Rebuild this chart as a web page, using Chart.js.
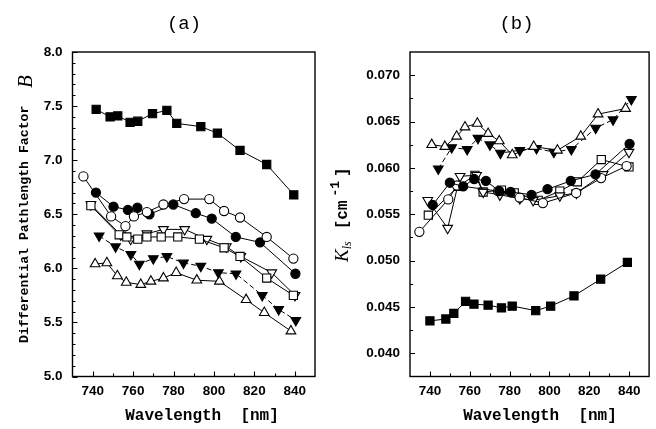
<!DOCTYPE html>
<html>
<head>
<meta charset="utf-8">
<script src="https://cdn.jsdelivr.net/npm/chart.js@4.4.0/dist/chart.umd.min.js"></script>
<style>
  html, body { margin: 0; padding: 0; background: #fff; }
  #wrap { position: relative; width: 656px; height: 429px; }
  #chartA { position: absolute; left: 0; top: 0; }
  #chartB { position: absolute; left: 330px; top: 0; }
</style>
</head>
<body>
<div id="wrap">
  <canvas id="chartA" width="330" height="429"></canvas>
  <canvas id="chartB" width="326" height="429"></canvas>
</div>
<script>
// wavelength axis (both panels)
var waveTicks = [740, 760, 780, 800, 820, 840];
var waveMinor = [750, 770, 790, 810, 830];

// (a) differential pathlength factor B
var dpfTicks = [5.0, 5.5, 6.0, 6.5, 7.0, 7.5, 8.0];
var dpfSqFillX = [741.7, 748.6, 752.4, 758.5, 762.3, 769.6, 776.7, 781.6, 793.5, 801.7, 812.9, 826.1, 839.5];
var dpfSqFillY = [7.47, 7.40, 7.41, 7.35, 7.36, 7.43, 7.46, 7.34, 7.31, 7.25, 7.09, 6.96, 6.68];
var dpfCircOpenX = [735.4, 749.1, 756.2, 760.4, 766.8, 775.0, 785.2, 797.7, 805.0, 812.9, 826.1, 839.3];
var dpfCircOpenY = [6.85, 6.48, 6.39, 6.48, 6.52, 6.59, 6.64, 6.64, 6.53, 6.47, 6.29, 6.09];
var dpfCircFillX = [741.6, 750.3, 757.4, 762.1, 768.1, 779.9, 791.0, 798.9, 810.8, 822.8, 840.3];
var dpfCircFillY = [6.70, 6.57, 6.54, 6.56, 6.50, 6.59, 6.51, 6.46, 6.29, 6.24, 5.95];
var dpfSqOpenX = [739.1, 753.1, 756.9, 762.3, 766.8, 773.9, 782.1, 792.8, 805.0, 812.9, 826.1, 839.3];
var dpfSqOpenY = [6.58, 6.31, 6.29, 6.27, 6.29, 6.29, 6.29, 6.27, 6.19, 6.11, 5.91, 5.75];
var dpfTriDownOpenX = [739.1, 753.9, 758.8, 766.8, 775.0, 785.5, 796.5, 806.1, 813.3, 828.6, 840.1];
var dpfTriDownOpenY = [6.59, 6.31, 6.27, 6.32, 6.36, 6.36, 6.27, 6.20, 6.11, 5.96, 5.75];
var dpfTriDownFillX = [743.2, 751.3, 758.9, 763.1, 770.0, 776.7, 784.9, 793.5, 802.2, 810.9, 823.9, 832.0, 840.5];
var dpfTriDownFillY = [6.30, 6.20, 6.13, 6.04, 6.09, 6.11, 6.05, 6.02, 5.96, 5.95, 5.75, 5.62, 5.52];
var dpfTriUpOpenX = [741.2, 747.0, 752.2, 756.6, 763.8, 768.8, 775.0, 781.3, 791.5, 802.7, 815.9, 824.9, 838.1];
var dpfTriUpOpenY = [6.04, 6.05, 5.93, 5.87, 5.85, 5.88, 5.91, 5.96, 5.89, 5.88, 5.71, 5.59, 5.42];

// (b) K_ls
var klsTicks = [0.040, 0.045, 0.050, 0.055, 0.060, 0.065, 0.070];
var klsSqFillX = [740.0, 748.0, 752.0, 757.9, 762.1, 769.2, 775.9, 781.3, 793.1, 800.6, 812.3, 825.7, 839.1];
var klsSqFillY = [0.0435, 0.0437, 0.0443, 0.0456, 0.0453, 0.0452, 0.0449, 0.0451, 0.0446, 0.0451, 0.0462, 0.0480, 0.0498];
var klsTriUpOpenX = [740.9, 747.5, 753.4, 757.6, 763.8, 769.2, 774.8, 781.3, 792.1, 804.0, 815.7, 824.4, 838.2];
var klsTriUpOpenY = [0.0625, 0.0623, 0.0634, 0.0644, 0.0648, 0.0637, 0.0629, 0.0614, 0.0623, 0.0619, 0.0634, 0.0658, 0.0664];
var klsTriDownFillX = [744.2, 750.9, 758.7, 764.1, 770.1, 775.4, 785.1, 793.5, 802.2, 811.0, 823.2, 831.9, 841.1];
var klsTriDownFillY = [0.0599, 0.0622, 0.0620, 0.0632, 0.0625, 0.0616, 0.0619, 0.0621, 0.0617, 0.0620, 0.0643, 0.0652, 0.0674];
var klsCircFillX = [741.4, 750.0, 756.7, 762.2, 768.1, 774.8, 780.5, 791.0, 799.0, 810.7, 823.1, 840.2];
var klsCircFillY = [0.0560, 0.0584, 0.0580, 0.0588, 0.0586, 0.0575, 0.0574, 0.0571, 0.0577, 0.0586, 0.0593, 0.0626];
var klsCircOpenX = [734.7, 749.2, 753.6, 774.2, 785.0, 796.7, 813.4, 825.9, 838.7];
var klsCircOpenY = [0.0531, 0.0566, 0.0581, 0.0575, 0.0568, 0.0562, 0.0573, 0.0589, 0.0602];
var klsTriDownOpenX = [738.9, 748.9, 755.1, 763.4, 766.7, 775.1, 785.1, 791.8, 805.2, 813.5, 826.9, 839.9];
var klsTriDownOpenY = [0.0565, 0.0535, 0.0591, 0.0592, 0.0574, 0.0571, 0.0567, 0.0565, 0.0570, 0.0573, 0.0593, 0.0617];
var klsSqOpenX = [739.2, 754.2, 762.6, 766.7, 775.9, 782.3, 794.3, 805.2, 814.0, 826.0, 839.9];
var klsSqOpenY = [0.0549, 0.0580, 0.0592, 0.0574, 0.0576, 0.0573, 0.0565, 0.0575, 0.0585, 0.0609, 0.0601];

var MONO = '"Liberation Mono", "DejaVu Sans Mono", monospace';
var SERIF = '"Liberation Serif", "DejaVu Serif", serif';

function pts(xs, ys) {
  return xs.map(function (x, i) { return { x: x, y: ys[i] }; });
}

// marker kinds: filled/open square, circle, up/down triangle
function series(xs, ys, kind, filled, dashed) {
  var style = 'circle', radius = 4.6, rot = 0;
  if (kind == 'sq') { style = 'rect'; radius = 5.8; }
  if (kind == 'up') { style = 'triangle'; radius = 5.6; }
  if (kind == 'down') { style = 'triangle'; radius = 5.6; rot = 180; }
  return {
    data: pts(xs, ys),
    borderColor: '#000',
    borderWidth: 1,
    borderDash: dashed ? [5, 3] : [],
    pointStyle: style,
    pointRadius: radius,
    pointRotation: rot,
    pointBackgroundColor: filled ? '#000' : '#fff',
    pointBorderColor: '#000',
    pointBorderWidth: 1.1,
    tension: 0,
    fill: false
  };
}

// box round the plot, inward ticks and the hand-set titles
var framePlugin = {
  id: 'frame',
  afterDraw: function (chart, args, o) {
    var ctx = chart.ctx, a = chart.chartArea;
    var sx = chart.scales.x, sy = chart.scales.y;
    ctx.save();
    ctx.strokeStyle = '#000';
    ctx.lineWidth = 1.4;
    ctx.strokeRect(a.left, a.top, a.right - a.left, a.bottom - a.top);
    ctx.lineWidth = 1.1;
    ctx.beginPath();
    waveTicks.forEach(function (v) {
      var p = Math.round(sx.getPixelForValue(v)) + 0.5;
      ctx.moveTo(p, a.bottom); ctx.lineTo(p, a.bottom - 5);
    });
    waveMinor.forEach(function (v) {
      var p = Math.round(sx.getPixelForValue(v)) + 0.5;
      ctx.moveTo(p, a.bottom); ctx.lineTo(p, a.bottom - 3);
    });
    o.yMajor.forEach(function (v) {
      var p = Math.round(sy.getPixelForValue(v)) + 0.5;
      ctx.moveTo(a.left, p); ctx.lineTo(a.left + 5, p);
    });
    o.yMinor.forEach(function (v) {
      var p = Math.round(sy.getPixelForValue(v)) + 0.5;
      ctx.moveTo(a.left, p); ctx.lineTo(a.left + 3, p);
    });
    ctx.stroke();

    ctx.fillStyle = '#000';
    ctx.textAlign = 'center';
    ctx.textBaseline = 'middle';
    ctx.font = '19px ' + MONO;
    ctx.fillText(o.title, o.titleX, 24);
    ctx.font = 'bold 16px ' + MONO;
    ctx.fillText('Wavelength  [nm]', o.xTitleX, 416);
    o.drawYTitle(ctx);
    ctx.restore();
  }
};

function makeChart(id, datasets, yMin, yMax, yTicks, yFmt, yWidth, padRight, frameOpts) {
  return new Chart(document.getElementById(id), {
    type: 'line',
    data: { datasets: datasets },
    options: {
      responsive: false,
      animation: false,
      layout: { padding: { left: 0, right: padRight, top: 52, bottom: 0 } },
      plugins: { legend: { display: false }, tooltip: { enabled: false }, frame: frameOpts },
      scales: {
        x: {
          type: 'linear', min: 730, max: 850,
          grid: { display: false, drawTicks: false },
          border: { display: false },
          afterBuildTicks: function (s) { s.ticks = waveTicks.map(function (v) { return { value: v }; }); },
          afterFit: function (s) { s.height = 52.5; },
          ticks: { padding: 7, color: '#000', font: { family: '"Liberation Sans", Arial, sans-serif', size: 13.5, weight: 'bold' } }
        },
        y: {
          type: 'linear', min: yMin, max: yMax,
          grid: { display: false, drawTicks: false },
          border: { display: false },
          afterBuildTicks: function (s) { s.ticks = yTicks.map(function (v) { return { value: v }; }); },
          afterFit: function (s) { s.width = yWidth; },
          ticks: {
            padding: 10, color: '#000',
            font: { family: '"Liberation Sans", Arial, sans-serif', size: 13.5, weight: 'bold' },
            callback: function (v) { return v.toFixed(yFmt); }
          }
        }
      }
    },
    plugins: [framePlugin]
  });
}

var minorA = [];
for (var i = 0; i <= 30; i++) { if (i % 5 != 0) minorA.push(5 + i * 0.1); }
var minorB = [0.0425, 0.0475, 0.0525, 0.0575, 0.0625, 0.0675];

makeChart('chartA', [
  series(dpfSqFillX, dpfSqFillY, 'sq', true),
  series(dpfCircOpenX, dpfCircOpenY, 'circ', false),
  series(dpfCircFillX, dpfCircFillY, 'circ', true),
  series(dpfSqOpenX, dpfSqOpenY, 'sq', false),
  series(dpfTriDownOpenX, dpfTriDownOpenY, 'down', false),
  series(dpfTriDownFillX, dpfTriDownFillY, 'down', true, true),
  series(dpfTriUpOpenX, dpfTriUpOpenY, 'up', false)
], 5, 8, dpfTicks, 1, 72.5, 15, {
  yMajor: dpfTicks, yMinor: minorA, title: '(a)', titleX: 184, xTitleX: 202,
  drawYTitle: function (ctx) {
    ctx.translate(25, 343);
    ctx.rotate(-Math.PI / 2);
    ctx.textAlign = 'left';
    ctx.font = 'bold 13.2px ' + MONO;
    ctx.fillText('Differential Pathlength Factor', 0, 0);
    ctx.font = 'italic 21px ' + SERIF;
    ctx.fillText('B', 255, 1);
  }
});

makeChart('chartB', [
  series(klsSqFillX, klsSqFillY, 'sq', true),
  series(klsTriUpOpenX, klsTriUpOpenY, 'up', false),
  series(klsTriDownFillX, klsTriDownFillY, 'down', true, true),
  series(klsCircFillX, klsCircFillY, 'circ', true),
  series(klsCircOpenX, klsCircOpenY, 'circ', false),
  series(klsTriDownOpenX, klsTriDownOpenY, 'down', false),
  series(klsSqOpenX, klsSqOpenY, 'sq', false)
], 0.0375, 0.0725, klsTicks, 3, 80, 6.5, {
  yMajor: klsTicks, yMinor: minorB, title: '(b)', titleX: 186.5, xTitleX: 210,
  drawYTitle: function (ctx) {
    ctx.translate(13, 262);
    ctx.rotate(-Math.PI / 2);
    ctx.textAlign = 'left';
    var x = 0;
    ctx.font = 'italic 19px ' + SERIF;
    ctx.fillText('K', x, 0);
    x += ctx.measureText('K').width;
    ctx.font = 'italic 12px ' + SERIF;
    ctx.fillText('ls', x, 5);
    x += ctx.measureText('ls').width + 12;
    ctx.font = 'bold 16px ' + MONO;
    ctx.fillText('[cm', x, 0);
    x += ctx.measureText('[cm').width + 4;
    ctx.font = 'bold 13px ' + MONO;
    ctx.fillText('-1', x, -7);
    x += ctx.measureText('-1').width + 4;
    ctx.font = 'bold 16px ' + MONO;
    ctx.fillText(']', x, 0);
  }
});
</script>
</body>
</html>
